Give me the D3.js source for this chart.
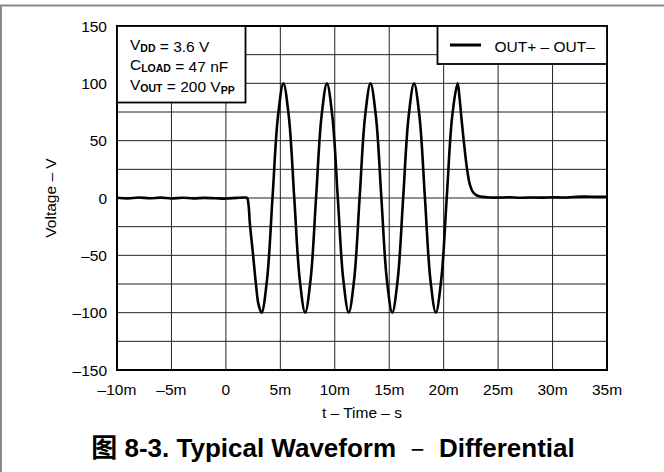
<!DOCTYPE html>
<html lang="en">
<head>
  <meta charset="UTF-8">
  <script src="https://d3js.org/d3.v7.min.js"></script>
  <style>
    body {
      margin: 0;
      padding: 0;
      background: #fff;
      overflow: hidden;
    }
    svg text {
      font-family: "Liberation Sans", Arial, "Noto Sans CJK SC", sans-serif;
      fill: #000;
    }
  </style>
</head>
<body>
  <div id="chart"></div>

  <script>
    // x axis, time in ms
    const xTicks = [-10, -5, 0, 5, 10, 15, 20, 25, 30, 35];
    const xTickLabels = ["–10m", "–5m", "0", "5m", "10m", "15m", "20m", "25m", "30m", "35m"];
    // y axis, volts (labels every 50, grid every 25)
    const yTicks = [-150, -100, -50, 0, 50, 100, 150];
    const yTickLabels = ["–150", "–100", "–50", "0", "50", "100", "150"];
    const yGrid = [-150, -125, -100, -75, -50, -25, 0, 25, 50, 75, 100, 125, 150];

    // OUT+ - OUT- waveform
    const timeMs = [
      -10, -9, -8, -7, -6, -5, -4, -3, -2, -1, 0, 1, 1.7, 1.95,
      2.08, 2.2, 2.5, 2.77, 3.0, 3.28,
      3.78, 4.28, 4.78, 5.28, 5.78, 6.28, 6.78, 7.28,
      7.78, 8.28, 8.78, 9.28, 9.78, 10.28, 10.78, 11.28,
      11.78, 12.28, 12.78, 13.28, 13.78, 14.28, 14.78, 15.28,
      15.78, 16.28, 16.78, 17.28, 17.78, 18.28, 18.78, 19.28,
      19.78, 20.28, 20.78, 21.28,
      21.45, 21.65, 21.9, 22.15, 22.4, 22.7, 23.1, 23.6, 24.2,
      25, 26, 27, 28, 29, 30, 31, 32, 33, 34, 35
    ];
    const voltage = [
      0.2, -0.3, 0.4, -0.2, 0.3, -0.4, 0.2, -0.3, 0.1, -0.2, -0.5, 0.1, 0.4, 0,
      -6, -22, -50, -76, -93, -100,
      -71, 0, 71, 100, 71, 0, -71, -100,
      -71, 0, 71, 100, 71, 0, -71, -100,
      -71, 0, 71, 100, 71, 0, -71, -100,
      -71, 0, 71, 100, 71, 0, -71, -100,
      -71, 0, 71, 100,
      88, 68, 45, 25, 12, 5, 2, 1, 0.5,
      0.3, 0.6, 0.2, 0.5, 0.3, 0.7, 0.4, 0.9, 1.2, 1.0, 1.1
    ];
    const seriesName = "OUT+ – OUT–";

    const width = 664, height = 472;
    const margin = { left: 117, right: 57, top: 26, bottom: 102 };

    const svg = d3.select("#chart")
      .append("svg")
      .attr("width", width)
      .attr("height", height)
      .attr("viewBox", `0 0 ${width} ${height}`);

    svg.append("rect").attr("width", width).attr("height", height).attr("fill", "#fff");

    // grey frame on top and left edge
    svg.append("line").attr("x1", 0).attr("x2", width).attr("y1", 5.5).attr("y2", 5.5)
      .attr("stroke", "#888").attr("stroke-width", 2);
    svg.append("line").attr("x1", 1).attr("x2", 1).attr("y1", 5).attr("y2", height)
      .attr("stroke", "#888").attr("stroke-width", 2);

    const x = d3.scaleLinear().domain([-10, 35]).range([margin.left, width - margin.right]);
    const y = d3.scaleLinear().domain([-150, 150]).range([height - margin.bottom, margin.top]);

    // grid
    const grid = svg.append("g").attr("stroke", "#222").attr("stroke-width", 1);
    grid.selectAll("line.v")
      .data(xTicks)
      .enter()
      .append("line")
      .attr("x1", d => x(d)).attr("x2", d => x(d))
      .attr("y1", y(-150)).attr("y2", y(150));
    grid.selectAll("line.h")
      .data(yGrid)
      .enter()
      .append("line")
      .attr("y1", d => y(d)).attr("y2", d => y(d))
      .attr("x1", x(-10)).attr("x2", x(35));

    // tick labels
    svg.append("g")
      .selectAll("text")
      .data(xTicks)
      .enter()
      .append("text")
      .attr("x", d => x(d))
      .attr("y", y(-150) + 25)
      .attr("text-anchor", "middle")
      .attr("font-size", 15.5)
      .text((d, i) => xTickLabels[i]);

    svg.append("g")
      .selectAll("text")
      .data(yTicks)
      .enter()
      .append("text")
      .attr("x", x(-10) - 10)
      .attr("y", d => y(d))
      .attr("dy", "0.36em")
      .attr("text-anchor", "end")
      .attr("font-size", 15.5)
      .text((d, i) => yTickLabels[i]);

    // axis titles
    svg.append("text")
      .attr("x", (x(-10) + x(35)) / 2)
      .attr("y", 418)
      .attr("text-anchor", "middle")
      .attr("font-size", 15.5)
      .text("t – Time – s");

    svg.append("text")
      .attr("transform", `translate(55.5,${(y(-150) + y(150)) / 2}) rotate(-90)`)
      .attr("text-anchor", "middle")
      .attr("font-size", 15.5)
      .text("Voltage – V");

    // waveform
    const pts = timeMs.map((t, i) => [t, voltage[i]]);
    const line = d3.line()
      .x(d => x(d[0]))
      .y(d => y(d[1]))
      .curve(d3.curveCatmullRom.alpha(0.5));

    svg.append("path")
      .datum(pts)
      .attr("d", line)
      .attr("fill", "none")
      .attr("stroke", "#000")
      .attr("stroke-width", 2.6)
      .attr("stroke-linejoin", "round");

    // plot frame
    svg.append("rect")
      .attr("x", x(-10)).attr("y", y(150))
      .attr("width", x(35) - x(-10)).attr("height", y(-150) - y(150))
      .attr("fill", "none").attr("stroke", "#000").attr("stroke-width", 2);

    // conditions box
    const cond = svg.append("g");
    cond.append("rect")
      .attr("x", x(-10)).attr("y", y(150))
      .attr("width", 128.5).attr("height", 76.5)
      .attr("fill", "#fff").attr("stroke", "#000").attr("stroke-width", 1.8);

    const condLines = [
      [["V", "DD"], [" = 3.6 V", null]],
      [["C", "LOAD"], [" = 47 nF", null]],
      [["V", "OUT"], [" = 200 V", null], ["", "PP"]]
    ];
    condLines.forEach((parts, i) => {
      const t = cond.append("text")
        .attr("x", 130)
        .attr("y", 49.5 + i * 20)
        .attr("font-size", 15.5);
      parts.forEach(p => {
        if (p[0]) t.append("tspan").text(p[0]);
        if (p[1]) {
          t.append("tspan")
            .attr("font-size", 10.5)
            .attr("font-weight", "bold")
            .attr("dy", 2)
            .text(p[1]);
          t.append("tspan").attr("dy", -2).text("");
        }
      });
    });

    // legend
    const leg = svg.append("g");
    leg.append("rect")
      .attr("x", 437.5).attr("y", y(150))
      .attr("width", x(35) - 437.5).attr("height", 38)
      .attr("fill", "#fff").attr("stroke", "#000").attr("stroke-width", 1.8);
    leg.append("line")
      .attr("x1", 450).attr("x2", 481).attr("y1", 45).attr("y2", 45)
      .attr("stroke", "#000").attr("stroke-width", 3);
    leg.append("text")
      .attr("x", 494.5).attr("y", 51.5)
      .attr("font-size", 15.5)
      .text(seriesName);

    // caption
    const cap = svg.append("text")
      .attr("x", 333)
      .attr("y", 456.5)
      .attr("text-anchor", "middle")
      .attr("font-size", 26)
      .attr("font-weight", "bold");
    cap.append("tspan").text("图 8-3. Typical Waveform\u00a0\u00a0");
    cap.append("tspan").attr("font-weight", "normal").attr("font-family", "Noto Sans CJK SC").text("–");
    cap.append("tspan").text("\u00a0\u00a0Differential");
  </script>
</body>
</html>
